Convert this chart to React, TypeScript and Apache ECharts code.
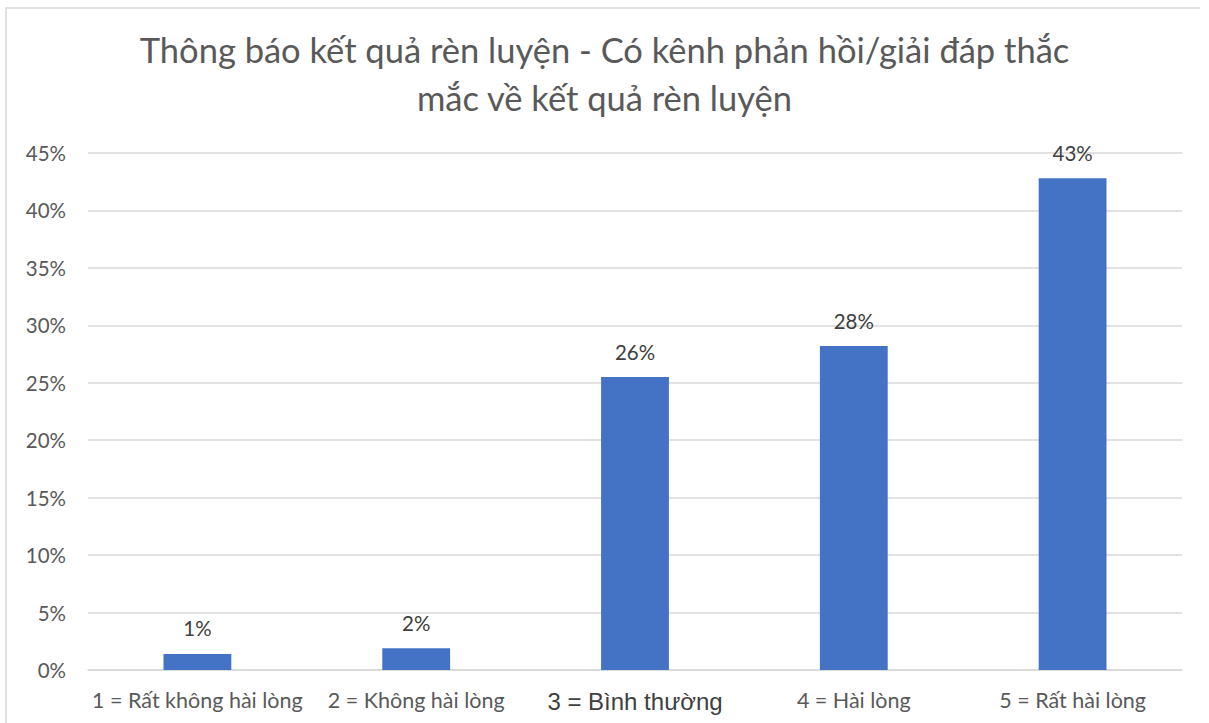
import React, { useEffect, useRef } from "react";
import * as echarts from "echarts";

const titleLines = [
  "Thông báo kết quả rèn luyện - Có kênh phản hồi/giải đáp thắc",
  "mắc về kết quả rèn luyện",
];
const categories = [
  "1 = Rất không hài lòng",
  "2 = Không hài lòng",
  "3 = Bình thường",
  "4 = Hài lòng",
  "5 = Rất hài lòng",
];
const values = [1.4, 1.9, 25.5, 28.2, 42.8];
const yMin = 0;
const yMax = 45;
const yInterval = 5;

export default function App() {
  const ref = useRef<HTMLDivElement>(null);
  useEffect(() => {
    if (!ref.current) return;
    const chart = echarts.init(ref.current, null, { renderer: "svg" });
    const font = "Lato, 'Open Sans', sans-serif";
    chart.setOption({
      animation: false,
      backgroundColor: "#ffffff",
      textStyle: { fontFamily: font },
      title: {
        text: titleLines.join("\n"),
        left: "center",
        top: 20,
        textStyle: {
          fontFamily: font,
          fontSize: 34.5,
          fontWeight: "normal",
          color: "#595959",
          lineHeight: 48,
        },
      },
      graphic: [
        {
          type: "polyline",
          shape: { points: [[6, 723], [6, 8], [1200, 8]] },
          style: { stroke: "#d9d9d9", lineWidth: 1.5, fill: "none" },
          silent: true,
        },
      ],
      grid: { left: 88, right: 27, top: 153, bottom: 53, containLabel: false },
      xAxis: {
        type: "category",
        data: categories,
        axisLine: { show: true, lineStyle: { color: "#d9d9d9", width: 1.5 } },
        axisTick: { show: false },
        axisLabel: {
          interval: 0,
          margin: 19,
          color: "#595959",
          fontSize: 21.5,
          fontFamily: font,
          formatter: (v: string, i: number) => (i === 2 ? `{big|${v}}` : v),
          rich: {
            big: {
              fontSize: 24,
              fontFamily: "'Liberation Sans', Arial, sans-serif",
              color: "#404040",
            },
          },
        },
      },
      yAxis: {
        type: "value",
        min: yMin,
        max: yMax,
        interval: yInterval,
        axisLine: { show: false },
        axisTick: { show: false },
        splitLine: { lineStyle: { color: "#d9d9d9", width: 1.5 } },
        axisLabel: {
          formatter: (v: number) => `${v}%`,
          color: "#595959",
          fontSize: 20.5,
          fontFamily: font,
          margin: 22,
        },
      },
      series: [
        {
          type: "bar",
          data: values,
          barWidth: "31%",
          itemStyle: { color: "#4472C4" },
          label: {
            show: true,
            position: "top",
            distance: 15,
            color: "#404040",
            fontSize: 20.5,
            fontFamily: font,
            formatter: (p: any) => `${Math.round(p.value)}%`,
          },
        },
      ],
    });
    return () => chart.dispose();
  }, []);
  return (
    <div
      ref={ref}
      style={{ position: "fixed", left: 0, top: 0, width: 1209, height: 723 }}
    />
  );
}
